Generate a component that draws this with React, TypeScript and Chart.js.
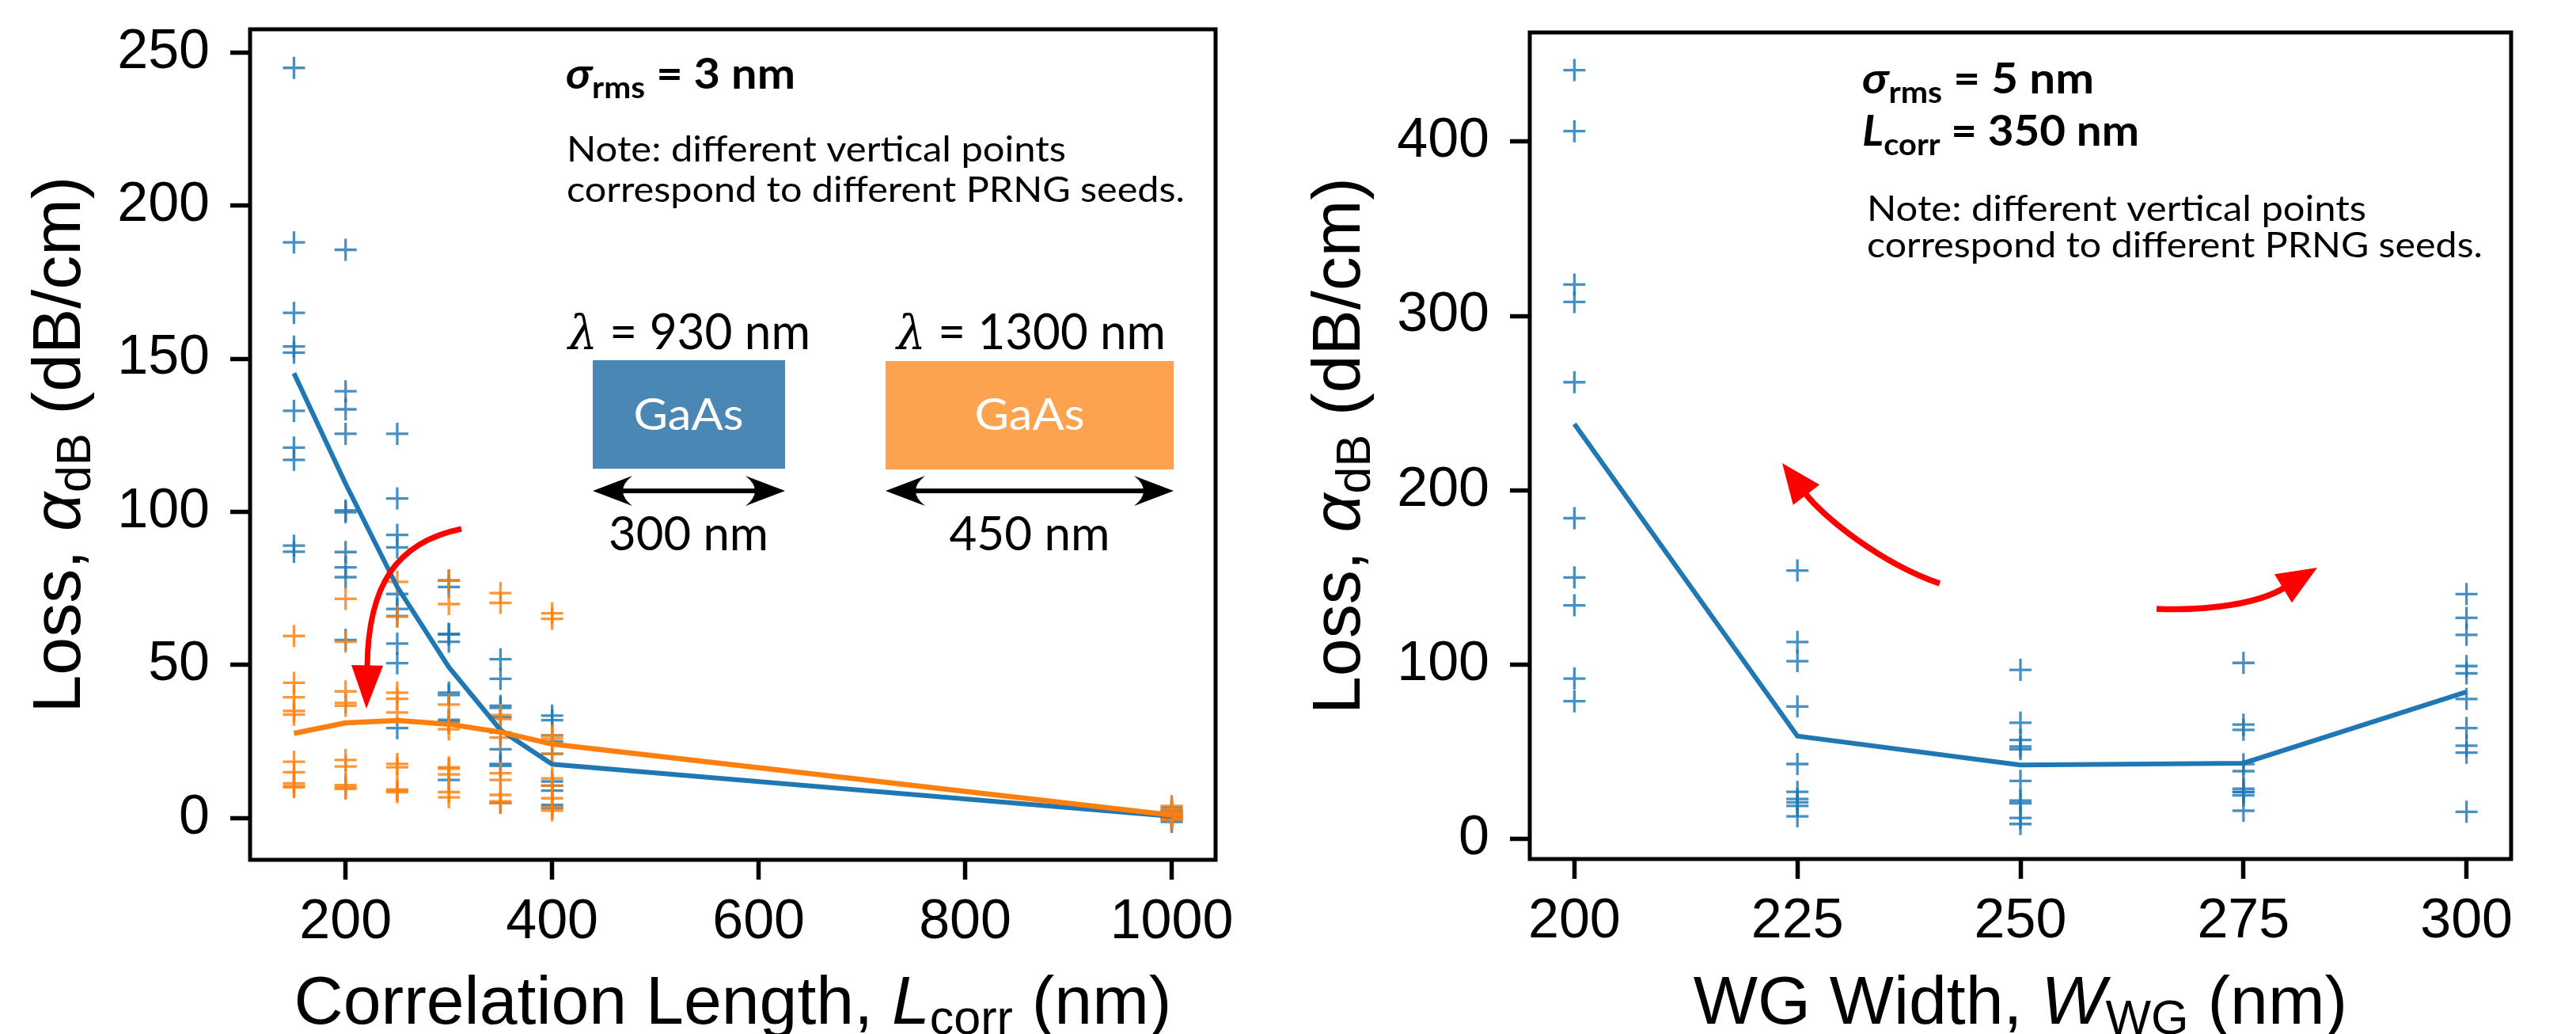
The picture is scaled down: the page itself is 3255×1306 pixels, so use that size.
import React, { useEffect, useRef } from "react";
import { Chart, registerables } from "chart.js";

Chart.register(...registerables);

// ---------------- Left panel data (loss vs correlation length) ----------------
const lcorrValues = [150, 200, 250, 300, 350, 400, 1000];
const lcorrTicks = [200, 400, 600, 800, 1000];
const lossTicksLeft = [0, 50, 100, 150, 200, 250];

// lambda = 930 nm, 300 nm wide (blue): one row per correlation length, one value per PRNG seed
const seeds930 = [
  [245, 188, 165, 154, 152, 133, 121, 117, 89, 87],
  [185.6, 139.4, 133.5, 125.5, 100.5, 99.9, 86.9, 81.9, 78.7, 58.2],
  [125.5, 104.4, 92.5, 88.4, 73.2, 68.3, 66, 57.0, 50.6, 29.4],
  [77.6, 75.5, 60.2, 60, 57.6, 41.0, 40.2, 32.1, 31.5, 12.5],
  [51.9, 45.5, 36.7, 36, 33, 28, 22.5, 17.7, 17.1, 5.0],
  [33.5, 32, 27, 25, 21, 12, 10.6, 9, 4.3, 3.4],
  [3.5, 2.5, 2, 1.2, 0.8, 0.5, 0.2, 0, -0.5, -1.2],
];
const mean930 = [145.3, 109.2, 75.5, 49.3, 28.8, 17.6, 0.6];

// lambda = 1300 nm, 450 nm wide (orange)
const seeds1300 = [
  [59.5, 44.2, 39.5, 35, 33.8, 18.4, 15, 11.4, 10.5, 10.1],
  [71.6, 57.6, 41.4, 37.6, 36.7, 19.0, 16.9, 10.8, 10.0, 9.6],
  [77.2, 65.8, 41.0, 39.0, 34.5, 17.7, 16.6, 9.4, 9.0, 8.5],
  [77.6, 69.9, 37.1, 31, 29, 16.6, 16.2, 14.3, 8.5, 6.8],
  [73.5, 70.3, 33.7, 32.4, 26.3, 14.7, 12.5, 7.6, 5.5, 5.0],
  [66.9, 65.1, 27, 26, 21, 13, 10.6, 6.5, 3.5, 2.5],
  [4, 3, 2.2, 1.5, 1.2, 0.8, 0.5, 0.3, 0, -0.5],
];
const mean1300 = [27.7, 31.1, 31.9, 30.7, 28.1, 24.2, 1.0];

// ---------------- Right panel data (loss vs waveguide width) ----------------
const wgValues = [200, 225, 250, 275, 300];
const wgTicks = [200, 225, 250, 275, 300];
const lossTicksRight = [0, 100, 200, 300, 400];
const seedsWG = [
  [441, 406, 318, 308, 262, 184, 150, 134, 92, 79],
  [154, 113, 102, 76, 43, 27, 23, 21, 19, 13],
  [97, 66.7, 56.8, 53, 51.5, 33.3, 22, 20.5, 12.1, 8.6],
  [101, 65.6, 62.6, 42.9, 38.9, 28.8, 27, 26.8, 25, 16.2],
  [140.5, 126.8, 117.1, 99.2, 95, 80.3, 63.6, 53.5, 49.5, 15.6],
];
const meanWG = [238, 59, 42.4, 43.5, 84.4];

// ---------------- helpers ----------------
const BLUE = "#1f77b4";
const ORANGE = "#ff7f0e";
const BLUE_PT = "rgba(31,119,180,0.82)";
const ORANGE_PT = "rgba(255,127,14,0.82)";
const SANS = "'Liberation Sans', Arial, sans-serif";
const NOTE = "Lato, 'Open Sans', sans-serif";
const GREEK = "'DejaVu Serif', serif";

function scatterPoints(xs: number[], rows: number[][]) {
  return xs.flatMap((x, i) => rows[i].map((y) => ({ x, y })));
}
function linePoints(xs: number[], ys: number[]) {
  return xs.map((x, i) => ({ x, y: ys[i] }));
}

type Run = { t: string; font: string; dy?: number };
function drawRuns(
  ctx: CanvasRenderingContext2D,
  runs: Run[],
  x: number,
  y: number,
  align: "left" | "center",
  width?: number,
  color = "#000"
) {
  ctx.save();
  let total = 0;
  const ws = runs.map((r) => {
    ctx.font = r.font;
    const w = ctx.measureText(r.t).width;
    total += w;
    return w;
  });
  const sx = width ? width / total : 1;
  const start = align === "center" ? x - (total * sx) / 2 : x;
  ctx.translate(start, y);
  ctx.scale(sx, 1);
  ctx.fillStyle = color;
  ctx.textBaseline = "alphabetic";
  ctx.textAlign = "left";
  let cx = 0;
  runs.forEach((r, i) => {
    ctx.font = r.font;
    ctx.fillText(r.t, cx, r.dy || 0);
    cx += ws[i];
  });
  ctx.restore();
}

function drawVerticalRuns(ctx: CanvasRenderingContext2D, runs: Run[], bx: number, cy: number) {
  ctx.save();
  ctx.translate(bx, cy);
  ctx.rotate(-Math.PI / 2);
  drawRuns(ctx, runs, 0, 0, "center");
  ctx.restore();
}

function doubleArrow(ctx: CanvasRenderingContext2D, x1: number, x2: number, y: number) {
  const L = 50, W = 19, notch = 12;
  ctx.save();
  ctx.fillStyle = "#000";
  ctx.strokeStyle = "#000";
  ctx.lineWidth = 6;
  ctx.beginPath();
  ctx.moveTo(x1 + L - notch, y);
  ctx.lineTo(x2 - L + notch, y);
  ctx.stroke();
  ctx.beginPath();
  ctx.moveTo(x1, y);
  ctx.lineTo(x1 + L, y - W);
  ctx.quadraticCurveTo(x1 + L - notch * 2, y, x1 + L, y + W);
  ctx.closePath();
  ctx.fill();
  ctx.beginPath();
  ctx.moveTo(x2, y);
  ctx.lineTo(x2 - L, y - W);
  ctx.quadraticCurveTo(x2 - L + notch * 2, y, x2 - L, y + W);
  ctx.closePath();
  ctx.fill();
  ctx.restore();
}

function curvedArrow(
  ctx: CanvasRenderingContext2D,
  p0: number[], p1: number[], p2: number[], p3: number[], tip: number[],
  hw: number, lw: number
) {
  ctx.save();
  ctx.strokeStyle = "#ff0000";
  ctx.fillStyle = "#ff0000";
  ctx.lineWidth = lw;
  ctx.beginPath();
  ctx.moveTo(p0[0], p0[1]);
  ctx.bezierCurveTo(p1[0], p1[1], p2[0], p2[1], p3[0], p3[1]);
  ctx.stroke();
  const dx = tip[0] - p3[0], dy = tip[1] - p3[1];
  const len = Math.hypot(dx, dy);
  const nx = -dy / len, ny = dx / len;
  ctx.beginPath();
  ctx.moveTo(tip[0], tip[1]);
  ctx.lineTo(p3[0] + nx * hw - dx * 0.05, p3[1] + ny * hw - dy * 0.05);
  ctx.lineTo(p3[0] - nx * hw - dx * 0.05, p3[1] - ny * hw - dy * 0.05);
  ctx.closePath();
  ctx.fill();
  ctx.restore();
}

function axis(min: number, max: number, ticks: number[], pos: "bottom" | "left", fit: number) {
  return {
    type: "linear",
    position: pos,
    min,
    max,
    afterBuildTicks: (s: any) => {
      s.ticks = ticks.map((v) => ({ value: v }));
    },
    afterFit: (s: any) => {
      if (pos === "bottom") s.height = fit;
      else s.width = fit;
      s.paddingTop = 0;
      s.paddingBottom = 0;
      s.paddingLeft = 0;
      s.paddingRight = 0;
    },
    grid: {
      drawOnChartArea: false,
      drawTicks: true,
      tickLength: 25,
      tickWidth: 5.5,
      tickColor: "#000",
    },
    border: { display: false },
    ticks: {
      color: "#000",
      font: { family: SANS, size: 70, lineHeight: 1.2 },
      padding: pos === "bottom" ? 13 : 26,
      maxRotation: 0,
      minRotation: 0,
      autoSkip: false,
      callback: (v: any) => String(v),
    },
    title: { display: false },
  };
}

const framePlugin = {
  id: "frame",
  beforeDraw(chart: any) {
    const ctx = chart.ctx;
    ctx.save();
    ctx.fillStyle = "#fff";
    ctx.fillRect(0, 0, chart.width, chart.height);
    ctx.restore();
  },
  afterDraw(chart: any) {
    const { ctx, chartArea: a } = chart;
    ctx.save();
    ctx.strokeStyle = "#000";
    ctx.lineWidth = 5;
    ctx.strokeRect(a.left, a.top, a.right - a.left, a.bottom - a.top);
    ctx.restore();
  },
};

const leftAnnotations = {
  id: "leftAnno",
  afterDraw(chart: any) {
    const ctx: CanvasRenderingContext2D = chart.ctx;
    const a = chart.chartArea;
    // axis titles
    drawRuns(ctx, [
      { t: "Correlation Length, ", font: `86px ${SANS}` },
      { t: "L", font: `italic 86px ${SANS}` },
      { t: "corr", font: `61px ${SANS}`, dy: 13 },
      { t: " (nm)", font: `86px ${SANS}` },
    ], (a.left + a.right) / 2, 1293, "center");
    drawVerticalRuns(ctx, [
      { t: "Loss, ", font: `86px ${SANS}` },
      { t: "α", font: `italic 86px ${SANS}` },
      { t: "dB", font: `61px ${SANS}`, dy: 13 },
      { t: " (dB/cm)", font: `86px ${SANS}` },
    ], a.left - 215, (a.top + a.bottom) / 2);

    // text notes
    drawRuns(ctx, [
      { t: "σ", font: `italic bold 54px ${NOTE}` },
      { t: "rms", font: `bold 38px ${NOTE}`, dy: 12 },
      { t: " = 3 nm", font: `bold 54px ${NOTE}` },
    ], 715, 112, "left", 290);
    drawRuns(ctx, [{ t: "Note: different vertical points", font: `44px ${NOTE}` }], 716, 204, "left", 631);
    drawRuns(ctx, [{ t: "correspond to different PRNG seeds.", font: `44px ${NOTE}` }], 716, 255, "left", 781);

    drawRuns(ctx, [
      { t: "λ", font: `italic 60px ${GREEK}` },
      { t: " = 930 nm", font: `62px ${NOTE}` },
    ], 718, 441, "left", 306);
    drawRuns(ctx, [
      { t: "λ", font: `italic 60px ${GREEK}` },
      { t: " = 1300 nm", font: `62px ${NOTE}` },
    ], 1133, 441, "left", 340);

    ctx.save();
    ctx.fillStyle = "#4a87b4";
    ctx.fillRect(749, 455, 243, 137);
    ctx.fillStyle = "#fda24e";
    ctx.fillRect(1119, 456, 364, 137);
    ctx.restore();
    drawRuns(ctx, [{ t: "GaAs", font: `56px ${NOTE}` }], 870, 543, "center", 139, "#fff");
    drawRuns(ctx, [{ t: "GaAs", font: `56px ${NOTE}` }], 1301, 543, "center", 139, "#fff");

    doubleArrow(ctx, 749, 992, 620);
    doubleArrow(ctx, 1119, 1483, 620);
    drawRuns(ctx, [{ t: "300 nm", font: `60px ${NOTE}` }], 870, 695, "center", 202);
    drawRuns(ctx, [{ t: "450 nm", font: `60px ${NOTE}` }], 1301, 695, "center", 203);

    curvedArrow(ctx, [583, 668], [500, 685], [465, 740], [464, 843], [463, 895], 20, 7);
  },
};

const rightAnnotations = {
  id: "rightAnno",
  afterDraw(chart: any) {
    const ctx: CanvasRenderingContext2D = chart.ctx;
    const a = chart.chartArea;
    const ox = 1625;
    drawRuns(ctx, [
      { t: "WG Width, ", font: `86px ${SANS}` },
      { t: "W", font: `italic 86px ${SANS}` },
      { t: "WG", font: `61px ${SANS}`, dy: 13 },
      { t: " (nm)", font: `86px ${SANS}` },
    ], (a.left + a.right) / 2, 1293, "center");
    drawVerticalRuns(ctx, [
      { t: "Loss, ", font: `86px ${SANS}` },
      { t: "α", font: `italic 86px ${SANS}` },
      { t: "dB", font: `61px ${SANS}`, dy: 13 },
      { t: " (dB/cm)", font: `86px ${SANS}` },
    ], a.left - 215, (a.top + a.bottom) / 2);

    drawRuns(ctx, [
      { t: "σ", font: `italic bold 54px ${NOTE}` },
      { t: "rms", font: `bold 38px ${NOTE}`, dy: 12 },
      { t: " = 5 nm", font: `bold 54px ${NOTE}` },
    ], 2353 - ox, 118, "left", 293);
    drawRuns(ctx, [
      { t: "L", font: `italic bold 54px ${NOTE}` },
      { t: "corr", font: `bold 38px ${NOTE}`, dy: 12 },
      { t: " = 350 nm", font: `bold 54px ${NOTE}` },
    ], 2353 - ox, 184, "left", 350);
    drawRuns(ctx, [{ t: "Note: different vertical points", font: `44px ${NOTE}` }], 2359 - ox, 279, "left", 631);
    drawRuns(ctx, [{ t: "correspond to different PRNG seeds.", font: `44px ${NOTE}` }], 2359 - ox, 325, "left", 778);

    curvedArrow(ctx, [826, 737], [750, 711], [677, 651], [656, 623], [627, 585], 21, 7.5);
    curvedArrow(ctx, [1100, 769], [1170, 772], [1232, 761], [1262, 742], [1303, 717], 21, 7.5);
  },
};

function scatterSet(data: any[], color: string, r: number) {
  return {
    data,
    showLine: false,
    pointStyle: "cross",
    pointRadius: r,
    pointBorderWidth: 3.3,
    pointBorderColor: color,
    pointBackgroundColor: color,
    borderColor: color,
  };
}
function lineSet(data: any[], color: string, w: number) {
  return {
    data,
    showLine: true,
    borderColor: color,
    borderWidth: w,
    pointRadius: 0,
    tension: 0,
    fill: false,
  };
}

function leftConfig(): any {
  return {
    type: "scatter",
    data: {
      datasets: [
        { ...lineSet(linePoints(lcorrValues, mean1300), ORANGE, 6.5), order: 0 },
        { ...lineSet(linePoints(lcorrValues, mean930), BLUE, 6), order: 1 },
        { ...scatterSet(scatterPoints(lcorrValues, seeds1300), ORANGE_PT, 14), order: 2 },
        { ...scatterSet(scatterPoints(lcorrValues, seeds930), BLUE_PT, 14), order: 3 },
      ],
    },
    options: {
      responsive: false,
      animation: false,
      events: [],
      layout: { autoPadding: false, padding: { top: 37, right: 89, bottom: 0, left: 0 } },
      plugins: { legend: { display: false }, tooltip: { enabled: false } },
      scales: {
        x: axis(107.5, 1042.5, lcorrTicks, "bottom", 220),
        y: axis(-13.6, 257.6, lossTicksLeft, "left", 316),
      },
    },
    plugins: [framePlugin, leftAnnotations],
  };
}

function rightConfig(): any {
  return {
    type: "scatter",
    data: {
      datasets: [
        { ...lineSet(linePoints(wgValues, meanWG), BLUE, 6), order: 0 },
        { ...scatterSet(scatterPoints(wgValues, seedsWG), BLUE_PT, 14), order: 1 },
      ],
    },
    options: {
      responsive: false,
      animation: false,
      events: [],
      layout: { autoPadding: false, padding: { top: 41, right: 82, bottom: 0, left: 0 } },
      plugins: { legend: { display: false }, tooltip: { enabled: false } },
      scales: {
        x: axis(195, 305, wgTicks, "bottom", 221),
        y: axis(-11.5, 462.6, lossTicksRight, "left", 308),
      },
    },
    plugins: [framePlugin, rightAnnotations],
  };
}

export default function App() {
  const leftRef = useRef<HTMLCanvasElement>(null);
  const rightRef = useRef<HTMLCanvasElement>(null);
  useEffect(() => {
    const c1 = new Chart(leftRef.current as HTMLCanvasElement, leftConfig());
    const c2 = new Chart(rightRef.current as HTMLCanvasElement, rightConfig());
    return () => {
      c1.destroy();
      c2.destroy();
    };
  }, []);
  return (
    <div
      style={{
        position: "absolute",
        left: 0,
        top: 0,
        width: 3255,
        height: 1306,
        background: "#fff",
        overflow: "hidden",
      }}
    >
      <canvas
        ref={leftRef}
        width={1625}
        height={1306}
        style={{ position: "absolute", left: 0, top: 0, width: 1625, height: 1306 }}
      />
      <canvas
        ref={rightRef}
        width={1630}
        height={1306}
        style={{ position: "absolute", left: 1625, top: 0, width: 1630, height: 1306 }}
      />
    </div>
  );
}
